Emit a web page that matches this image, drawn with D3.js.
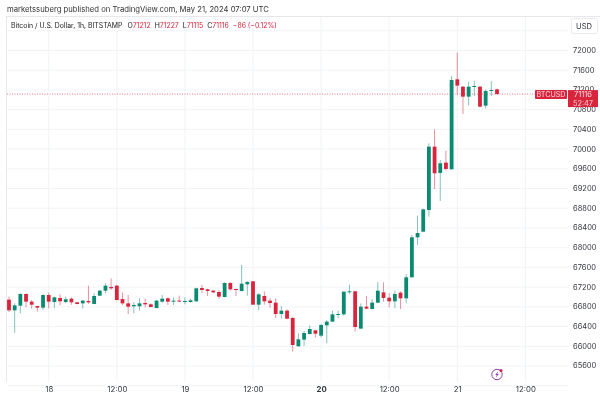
<!DOCTYPE html>
<html><head><meta charset="utf-8">
<script src="https://cdn.jsdelivr.net/npm/d3@7/dist/d3.min.js"></script>
<style>html,body{margin:0;padding:0;background:#fff}svg{display:block;filter:blur(0.4px)}text{font-family:Inter,"Noto Sans",sans-serif}</style>
</head><body><svg id="c" width="600" height="394"></svg>
<script>
const startTime = "2024-05-17T17:00:00Z";
const opens = [66946,66729,66824,67061,66905,66817,66784,67040,66898,66980,66898,66966,66892,66871,66919,66858,67027,67128,67203,67230,66959,66871,66811,66811,66878,66851,66777,66905,66973,66905,66926,66905,66898,66912,67182,67155,67128,67101,67000,67284,67162,67121,67257,67318,66844,67020,66926,66885,66655,66723,66574,66000,66135,66249,66324,66216,66425,66500,66642,66648,67101,67115,66358,66804,66756,66885,67094,66986,66912,67088,66973,67399,68210,68325,68764,70050,69516,69725,69590,71415,71266,71064,71260,71266,70881,71185,71212];
const highs = [67007,66871,67074,67074,66939,66824,67054,67088,67007,67054,67007,66993,66898,66939,67230,67074,67142,67277,67378,67250,67088,67040,66892,66973,66966,66871,66939,67040,66993,66993,67027,66993,66966,67189,67243,67169,67142,67142,67297,67297,67169,67649,67324,67324,67074,67115,66973,66973,66817,66750,66601,66263,66310,66425,66331,66452,66533,66723,66723,67115,67250,67128,66871,67020,66959,67304,67297,67074,67128,67115,67466,68257,68649,68791,70117,70401,69779,69968,71483,71956,71280,71368,71388,71280,71212,71381,71227];
const lows = [66696,66270,66669,66790,66763,66702,66736,66770,66777,66831,66871,66844,66851,66763,66858,66851,67020,67074,67142,66926,66838,66655,66669,66723,66790,66790,66770,66885,66838,66838,66898,66851,66885,66898,67088,67020,67074,66966,66993,67128,67020,67115,67027,66844,66729,66844,66777,66574,66560,66547,65891,65993,66006,66236,66182,66182,66060,66493,66567,66621,67067,66297,66351,66756,66750,66878,66905,66790,66770,66756,66872,67399,68055,68318,68629,69191,68947,69563,69590,71104,70712,70888,71077,70847,70820,71077,71115];
const closes = [66729,66831,67061,66905,66844,66784,67040,66905,66993,66912,66953,66892,66858,66926,66892,67020,67128,67230,67176,66939,66871,66804,66838,66871,66851,66797,66926,66966,66905,66926,66912,66919,66932,67176,67142,67121,67094,67007,67284,67155,67142,67270,67304,66844,67054,66912,66878,66655,66723,66560,66026,66141,66270,66351,66256,66432,66500,66648,66655,67108,67115,66391,66804,66763,66885,67128,66980,66912,67061,66973,67399,68210,68298,68778,70050,69509,69712,69597,71402,71287,71064,71266,71280,70861,71179,71199,71116];
const priceTicks = [65600,66000,66400,66800,67200,67600,68000,68400,68800,69200,69600,70000,70400,70800,71200,71600,72000];
const gridPrices = [65200].concat(priceTicks, [72400]);
const timeTicks = ["2024-05-18","2024-05-18T12:00","2024-05-19","2024-05-19T12:00","2024-05-20","2024-05-20T12:00","2024-05-21","2024-05-21T12:00"];
const timeLabels = ["18","12:00","19","12:00","20","12:00","21","12:00"];
const headerText = "marketssuberg published on TradingView.com, May 21, 2024 07:07 UTC";
const legendTitle = "Bitcoin / U.S. Dollar, 1h, BITSTAMP";
const legendOHLC = [["O","71212"],["H","71227"],["L","71115"],["C","71116"]];
const legendChange = "\u221286 (\u22120.12%)";
const lastPrice = 71116, countdown = "52:47", symbol = "BTCUSD", currency = "USD";

const UP="#0b8a72", DOWN="#d9243d", TXT="#33363f", GRID="#f1f3f6";
const svg=d3.select("#c");
const t0=new Date(startTime);
const times=opens.map((_,i)=>new Date(+t0+i*3600e3));
const x=d3.scaleUtc().domain([t0,times[86]]).range([9,497]);
const y=d3.scaleLinear().domain([65600,72000]).range([366,50.5]);
const tickDates=timeTicks.map(s=>new Date(s+(s.length>10?":00Z":"T00:00:00Z")));

// frame
svg.append("line").attr("x1",6.5).attr("x2",6.5).attr("y1",16).attr("y2",382).attr("stroke","#e6e8ec");
svg.append("line").attr("x1",6.5).attr("x2",600).attr("y1",16.5).attr("y2",16.5).attr("stroke","#e6e8ec");
// grid
svg.append("g").selectAll("line").data(gridPrices).join("line")
 .attr("x1",7).attr("x2",568).attr("y1",d=>y(d)).attr("y2",d=>y(d)).attr("stroke",GRID);
svg.append("g").selectAll("line").data(tickDates).join("line")
 .attr("x1",d=>x(d)).attr("x2",d=>x(d)).attr("y1",17).attr("y2",382).attr("stroke",GRID);

// axes
const ay=d3.axisRight(y).tickValues(priceTicks).tickSize(0).tickPadding(0).tickFormat(d3.format("d"));
const gy=svg.append("g").attr("transform","translate(573,-0.5)").call(ay);
gy.select(".domain").remove();
gy.selectAll("text").attr("font-size",7.5).attr("fill",TXT).style("font-family","Inter,sans-serif");
const labelOf=new Map(tickDates.map((d,i)=>[+d,timeLabels[i]]));
const ax=d3.axisBottom(x).tickValues(tickDates).tickSize(0).tickPadding(0).tickFormat(d=>labelOf.get(+d));
const gx=svg.append("g").attr("transform","translate(0,386)").call(ax);
gx.select(".domain").remove();
gx.selectAll("text").attr("font-size",7.8).attr("fill",TXT).attr("font-weight",d=>labelOf.get(+d)==="20"?700:400).style("font-family","Inter,sans-serif");

// last price line
const ly=y(lastPrice);
svg.append("line").attr("x1",7).attr("x2",535).attr("y1",ly).attr("y2",ly).attr("stroke",DOWN).attr("stroke-opacity",.6).attr("stroke-dasharray","1 1.5");

// candles
const cw=3.8;
const g=svg.append("g");
const col=i=>closes[i]>=opens[i]?UP:DOWN;
g.selectAll("line").data(opens).join("line")
 .attr("x1",(d,i)=>x(times[i])).attr("x2",(d,i)=>x(times[i]))
 .attr("y1",(d,i)=>y(highs[i])).attr("y2",(d,i)=>y(lows[i]))
 .attr("stroke",(d,i)=>col(i)).attr("stroke-opacity",.5).attr("stroke-width",1);
g.selectAll("rect").data(opens).join("rect")
 .attr("x",(d,i)=>x(times[i])-cw/2).attr("width",cw)
 .attr("y",(d,i)=>y(Math.max(opens[i],closes[i])))
 .attr("height",(d,i)=>Math.max(1,Math.abs(y(opens[i])-y(closes[i]))))
 .attr("fill",(d,i)=>col(i));

// header
svg.append("text").attr("x",7).attr("y",12).attr("font-size",7.7).attr("fill","#333").text(headerText);
const lg=svg.append("text").attr("x",11).attr("y",28).attr("font-size",6.9).attr("fill","#222");
lg.append("tspan").text(legendTitle);
legendOHLC.forEach((p,i)=>{
  lg.append("tspan").attr("dx",i==0?5:4).attr("fill","#222").text(p[0]);
  lg.append("tspan").attr("fill",DOWN).text(p[1]);
});
lg.append("tspan").attr("dx",4).attr("fill",DOWN).text(legendChange);

// USD button
svg.append("rect").attr("x",571.5).attr("y",18.5).attr("width",26).attr("height",15).attr("rx",2).attr("fill","#fff").attr("stroke","#e8eaee");
svg.append("text").attr("x",584).attr("y",29).attr("text-anchor","middle").attr("font-size",7.6).attr("fill",TXT).text(currency);

// labels
svg.append("rect").attr("x",535).attr("y",ly-4).attr("width",32).attr("height",9).attr("rx",1).attr("fill",DOWN);
svg.append("text").attr("x",551).attr("y",ly+3).attr("text-anchor","middle").attr("font-size",7.2).attr("fill","#ffd9dd").text(symbol);
svg.append("rect").attr("x",568).attr("y",ly-4).attr("width",30).attr("height",17).attr("fill",DOWN);
svg.append("text").attr("x",583).attr("y",ly+3).attr("text-anchor","middle").attr("font-size",7.4).attr("fill","#ffe3e6").text(d3.format("d")(lastPrice));
svg.append("text").attr("x",583).attr("y",ly+11.5).attr("text-anchor","middle").attr("font-size",7.4).attr("fill","#ffd0d5").text(countdown);

// icon
const ic=svg.append("g").attr("transform","translate(497,374.5)");
ic.append("circle").attr("r",5.2).attr("fill","#fff").attr("stroke","#8e3fa8").attr("stroke-width",1);
ic.append("path").attr("d","M1.2,-3.2 L-1.8,0.6 L-0.2,0.6 L-1.2,3.2 L1.8,-0.6 L0.2,-0.6 Z").attr("fill","#8e3fa8");
ic.append("circle").attr("cx",4).attr("cy",-4).attr("r",1.5).attr("fill","#d0204a");
</script></body></html>
